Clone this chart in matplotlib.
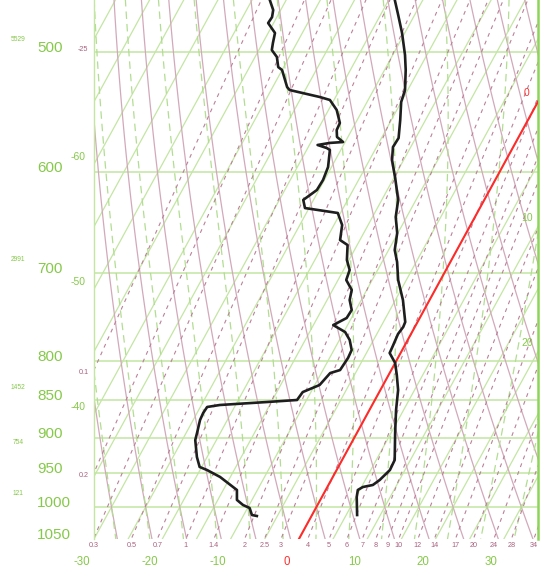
import numpy as np
import matplotlib.pyplot as plt
from matplotlib.ticker import NullLocator
from matplotlib.transforms import blended_transform_factory

plt.rcParams['font.family'] = ['Liberation Sans', 'DejaVu Sans']

# sounding: pressure (hPa), temperature (degC)
temp_p = [461.7, 472.4, 485.5, 502.1, 513.7, 529.6, 539.4, 554.4, 569.8, 577.7,
          589.2, 605.6, 626.3, 642.7, 658.6, 675.9, 688.3, 707.5, 729.4, 754.3,
          760.0, 768.2, 782.4, 790.8, 802.9, 817.7, 836.7, 862.6, 893.3, 930.9,
          945.2, 959.7, 967.0, 970.0, 974.4, 984.9, 1012.3]
temp_t = [-29.1, -27.4, -25.4, -23.2, -21.9, -20.4, -20.0, -18.7, -17.5, -17.6,
          -16.7, -14.8, -12.6, -11.6, -10.1, -9.1, -7.8, -6.2, -3.9, -1.8,
          -1.7, -1.9, -1.7, -1.6, 0.0, 1.2, 2.6, 3.9, 5.6, 7.7,
          7.8, 7.1, 6.5, 5.2, 4.7, 5.1, 6.6]

dewp_p = [461.7, 468.8, 473.9, 478.2, 485.5, 493.0, 498.3, 503.6, 511.4, 513.7,
          527.2, 529.6, 535.3, 537.7, 546.0, 556.9, 562.9, 568.9, 573.3, 574.1,
          575.9, 578.6, 580.3, 595.6, 607.5, 616.8, 621.5, 626.2, 634.0, 638.8,
          650.6, 665.7, 670.8, 686.3, 696.8, 707.5, 718.3, 729.4, 740.6, 749.7,
          757.8, 765.9, 775.2, 787.2, 796.8, 811.6, 815.3, 830.3, 839.3, 849.5,
          852.1, 856.0, 858.6, 866.4, 875.8, 893.3, 902.9, 926.6, 940.8, 945.1,
          955.3, 974.4, 989.3, 997.0, 1001.5, 1012.3, 1013.8]
dewp_t = [-47.4, -46.1, -45.7, -45.8, -44.0, -43.5, -43.1, -41.8, -40.8, -40.0,
          -37.9, -37.3, -32.3, -30.6, -28.8, -27.3, -27.2, -26.6, -25.3, -27.2,
          -28.8, -27.2, -26.6, -25.5, -25.2, -25.3, -25.9, -26.5, -25.6, -20.4,
          -18.8, -17.9, -16.4, -15.3, -14.1, -13.8, -12.2, -11.7, -10.6, -10.7,
          -12.1, -9.8, -8.5, -7.4, -7.3, -7.5, -8.7, -9.3, -11.2, -11.4,
          -15.6, -22.3, -24.0, -24.1, -24.0, -23.4, -23.1, -21.5, -20.3, -19.0,
          -16.5, -13.0, -12.2, -10.9, -9.7, -8.8, -8.0]

pressure_levels = [500, 600, 700, 800, 850, 900, 950, 1000, 1050]
height_levels = [500, 700, 850, 925, 1000]
height_labels = ['5529', '2991', '1452', '754', '121']
temp_ticks = [-30, -20, -10, 0, 10, 20, 30]
isotherms = list(range(-80, 40, 5))
dry_adiabats = list(range(-40, 75, 5))
moist_adiabats = list(range(-30, 40, 5))
mixing_ratios = [0.1, 0.2, 0.3, 0.5, 0.7, 1, 1.4, 2, 2.5, 3, 4, 5, 6, 7, 8, 9,
                 10, 12, 14, 17, 20, 24, 28, 34]
mixing_labels = ['0.1', '0.2', '0.3', '0.5', '0.7', '1', '1.4', '2', '2.5', '3',
                 '4', '5', '6', '7', '8', '9', '10', '12', '14', '17', '20',
                 '24', '28', '34']

SKEW = 52.5
P_BOT = 1050.0
P_TOP = 461.7

GREEN = '#c3e6a3'
GREEN_D = '#b2dd92'
GREEN_TXT = '#86c94a'
MAUVE = '#d2a9ba'
MAROON = '#bb8199'
MAROON_TXT = '#a8607e'


def skew_x(t, p):
    return np.asarray(t, dtype=float) + SKEW * np.log(P_BOT / np.asarray(p, dtype=float))


def sat_mix(tk, p):
    tc = tk - 273.15
    es = 6.112 * np.exp(17.67 * tc / (tc + 243.5))
    return 0.622 * es / (p - es)


def moist_lapse(tk, p):
    rs = sat_mix(tk, p)
    return (287.04 * tk + 2.501e6 * rs) / (
        p * (1005.7 + 2.501e6 ** 2 * rs * 0.622 / (287.04 * tk ** 2)))


def moist_curve(tw):
    out_p, out_t = [1000.0], [tw + 273.15]
    for step in (-2.0, 2.0):
        p, t = 1000.0, tw + 273.15
        ps, ts = [], []
        while (p > P_TOP - 5) if step < 0 else (p < P_BOT + 5):
            k1 = moist_lapse(t, p)
            k2 = moist_lapse(t + k1 * step, p + step)
            t = t + 0.5 * (k1 + k2) * step
            p = p + step
            ps.append(p)
            ts.append(t)
        if step < 0:
            out_p = ps[::-1] + out_p
            out_t = ts[::-1] + out_t
        else:
            out_p = out_p + ps
            out_t = out_t + ts
    return np.array(out_p), np.array(out_t) - 273.15


def dew_from_mix(w, p):
    e = p * (w / 1000.0) / (0.622 + w / 1000.0)
    x = np.log(e / 6.112)
    return 243.5 * x / (17.67 - x)


fig = plt.figure(figsize=(5.51, 5.84), dpi=100)
ax = fig.add_axes([94 / 551, 45 / 584, 444 / 551, 539 / 584])
ax.set_yscale('log')
ax.set_ylim(P_BOT, P_TOP)
ax.set_xlim(-30, 35)
ax.set_xticks([])
ax.set_yticks([])
ax.yaxis.set_minor_locator(NullLocator())
for side in ('top', 'bottom'):
    ax.spines[side].set_visible(False)
ax.spines['left'].set_color(GREEN)
ax.spines['left'].set_linewidth(1.0)
ax.spines['right'].set_color('#8fd45a')
ax.spines['right'].set_linewidth(1.8)

pp = np.geomspace(P_BOT + 10, P_TOP - 10, 120)

# isobars
for p in pressure_levels[:-1]:
    ax.axhline(p, color=GREEN, lw=1.1, zorder=1)

# isotherms
for t in isotherms:
    ax.plot(skew_x(t, pp), pp, color=GREEN, lw=0.9, zorder=1)

# dry adiabats
for th in dry_adiabats:
    tt = (th + 273.15) * (pp / 1000.0) ** 0.286 - 273.15
    ax.plot(skew_x(tt, pp), pp, color=MAUVE, lw=0.9, zorder=1)

# moist adiabats
for tw in moist_adiabats:
    mp, mt = moist_curve(tw)
    ax.plot(skew_x(mt, mp), mp, color=GREEN_D, lw=0.9, ls=(0, (6, 4)), zorder=1)

# mixing ratio lines
for w in mixing_ratios:
    td = dew_from_mix(w, pp)
    ax.plot(skew_x(td, pp), pp, color=MAROON, lw=0.8, ls=(0, (3.5, 4)), zorder=1)

# 0 degC isotherm
ax.plot(skew_x(0, pp), pp, color='#ff2a2a', lw=1.5, zorder=3)

# sounding
ax.plot(skew_x(temp_t, temp_p), temp_p, color='#1e1e1e', lw=1.9, zorder=4)
ax.plot(skew_x(dewp_t, dewp_p), dewp_p, color='#1e1e1e', lw=1.9, zorder=4)

# labels: pressure
lab_tr = blended_transform_factory(ax.transAxes, ax.transData)
for p in pressure_levels:
    ax.text(-0.128, p, str(p), transform=lab_tr, ha='left', va='baseline',
            fontsize=11, color=GREEN_TXT, clip_on=False)

for p, h in zip(height_levels, height_labels):
    ax.annotate(h, xy=(-0.171, p), xycoords=lab_tr, xytext=(0, 7),
                textcoords='offset points', ha='center', va='bottom',
                fontsize=4.8, color=GREEN_TXT, annotation_clip=False)

# temperature labels under the axis
p_lab = P_BOT * np.exp(23 / 656)
for t in temp_ticks:
    ax.text(skew_x(t, p_lab), p_lab, str(t), ha='center', va='center',
            fontsize=8.3, color='#ff3030' if t == 0 else GREEN_TXT, clip_on=False)

# mixing ratio labels
p_mix = P_BOT * np.exp(6 / 656)
for w, s in zip(mixing_ratios, mixing_labels):
    x = float(skew_x(dew_from_mix(w, P_BOT), P_BOT))
    if x < -30.5:
        continue
    ax.text(x, p_mix, s, ha='center', va='center', fontsize=5.2,
            color=MAROON_TXT, clip_on=False)
for p, s in [(810, '0.1'), (948, '0.2')]:
    ax.text(-0.024, p, s, transform=lab_tr, ha='center', va='top',
            fontsize=5.2, color=MAROON_TXT, clip_on=False)

# isotherm labels at the edges
for t in [-60, -50, -40]:
    p = P_BOT * np.exp(-(-30 - t) / SKEW)
    ax.annotate(str(t), xy=(-0.036, p), xycoords=lab_tr, xytext=(0, 5),
                textcoords='offset points', ha='center', va='center',
                fontsize=7.5, color=GREEN_TXT, annotation_clip=False)
for t in [0, 10, 20]:
    p = P_BOT * np.exp(-(35 - t) / SKEW)
    ax.annotate(str(t), xy=(0.975, p), xycoords=lab_tr, xytext=(0, 6),
                textcoords='offset points', ha='center', va='center',
                fontsize=7.5, color='#ff3030' if t == 0 else GREEN_TXT,
                annotation_clip=False)

# dry adiabat label at the left edge
ax.annotate('-25', xy=(-0.024, 500), xycoords=lab_tr, xytext=(0, 2),
            textcoords='offset points', ha='center', va='center',
            fontsize=5.2, color=MAROON_TXT, annotation_clip=False)

fig.savefig('out.png', dpi=100)
